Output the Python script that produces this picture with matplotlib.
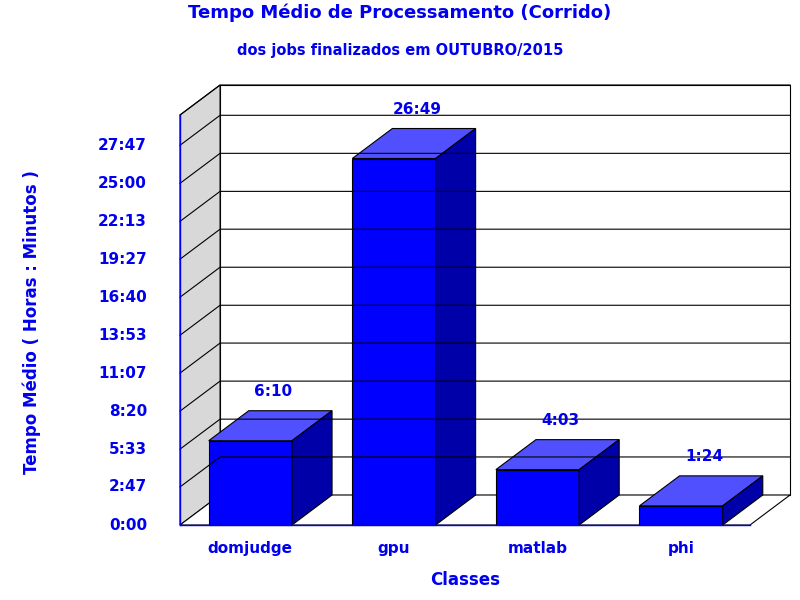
import matplotlib.pyplot as plt
from matplotlib.patches import Polygon

classes = ["domjudge", "gpu", "matlab", "phi"]
minutes = [370, 1609, 243, 84]
labels = ["6:10", "26:49", "4:03", "1:24"]
ticks = [0, 167, 333, 500, 667, 833, 1000, 1167, 1333, 1500, 1667]
tick_labels = ["0:00", "2:47", "5:33", "8:20", "11:07", "13:53", "16:40",
               "19:27", "22:13", "25:00", "27:47"]

blue = "#0000ee"
fig = plt.figure(figsize=(8, 6), dpi=100)
ax = fig.add_axes([180 / 800, 75 / 600, 570 / 800, 410 / 600])
xl, xr, ymax = -0.49, 3.48, 1800
dx, dy = 0.279, 131.7
ax.set_xlim(xl, xr)
ax.set_ylim(0, ymax)
ax.axis("off")

def poly(pts, fc, ec="black", lw=0.8):
    ax.add_patch(Polygon(pts, closed=True, fc=fc, ec=ec, lw=lw, clip_on=False))

# back wall, side wall, floor
poly([(xl + dx, dy), (xr + dx, dy), (xr + dx, ymax + dy), (xl + dx, ymax + dy)], "white")
poly([(xl, 0), (xl + dx, dy), (xl + dx, ymax + dy), (xl, ymax)], "#d8d8d8")
poly([(xl, 0), (xr, 0), (xr + dx, dy), (xl + dx, dy)], "white")
for t in ticks[1:] + [ymax]:
    ax.plot([xl, xl + dx, xr + dx], [t, t + dy, t + dy], color="black", lw=0.8, clip_on=False)
ax.plot([xl, xl], [0, ymax], color=blue, lw=1, clip_on=False)
ax.plot([xl, xr], [0, 0], color=blue, lw=1, clip_on=False)

for t, lab in zip(ticks, tick_labels):
    ax.text(xl - 0.23, t, lab, ha="right", va="center", color=blue,
            fontsize=11, fontweight="bold")

w = 0.58
for i, (v, lab) in enumerate(zip(minutes, labels)):
    a, b = i - w / 2, i + w / 2
    poly([(a, 0), (b, 0), (b, v), (a, v)], "#0000ff")
    poly([(a, v), (b, v), (b + dx, v + dy), (a + dx, v + dy)], "#5050ff")
    poly([(b, 0), (b + dx, dy), (b + dx, v + dy), (b, v)], "#0000a8")
    ax.text(i + dx / 2 + 0.02, v + dy + 50, lab, ha="center", va="bottom",
            color=blue, fontsize=11, fontweight="bold")
    ax.text(i, -70, classes[i], ha="center", va="top", color=blue,
            fontsize=11, fontweight="bold")

fig.text(400 / 800, 1 - 13 / 600, "Tempo Médio de Processamento (Corrido)", ha="center",
         va="center", color=blue, fontsize=13, fontweight="bold")
fig.text(400 / 800, 1 - 50 / 600, "dos jobs finalizados em OUTUBRO/2015", ha="center",
         va="center", color=blue, fontsize=10.5, fontweight="bold")
fig.text(465 / 800, 1 - 580 / 600, "Classes", ha="center", va="center",
         color=blue, fontsize=12, fontweight="bold")
fig.text(32 / 800, 1 - 322 / 600, "Tempo Médio ( Horas : Minutos )", ha="center",
         va="center", rotation=90, color=blue, fontsize=12, fontweight="bold")

fig.savefig("out.png", dpi=100, facecolor="white")
